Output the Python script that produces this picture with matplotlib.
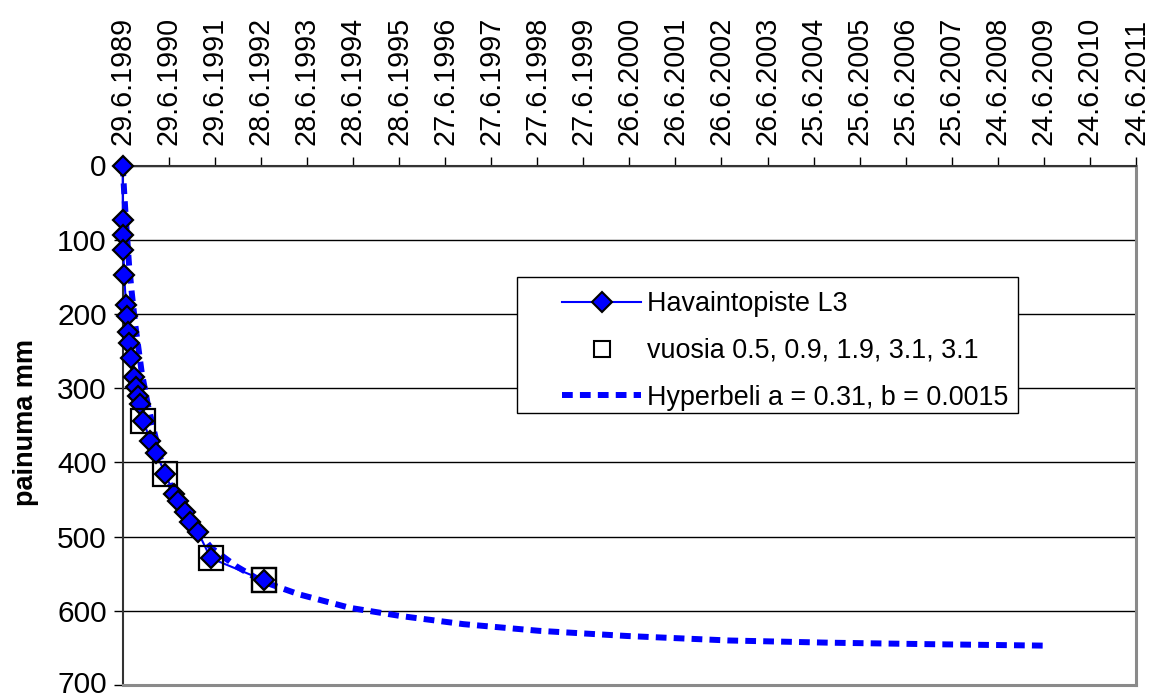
import numpy as np
import matplotlib
matplotlib.use('Agg')
import matplotlib.pyplot as plt
from matplotlib.lines import Line2D
from matplotlib.patches import Rectangle
from matplotlib.transforms import ScaledTranslation

plt.rcParams['font.family'] = ['Liberation Sans', 'DejaVu Sans']

# havaintopisteen L3 painuma (päiviä alusta 29.6.1989, mm)
obs_days = [0, 1, 3, 5, 12, 26, 34, 44, 52, 66, 86, 105, 121, 137, 163,
            219, 266, 338, 407, 441, 490, 533, 597, 697, 1120]
obs_mm = [0, 73, 94, 114, 148, 188, 203, 225, 239, 260, 285, 298, 311, 321, 344,
          371, 388, 416, 443, 452, 467, 481, 494, 529, 559]

# merkityt pisteet: vuosia 0.5, 0.9, 1.9, 3.1, 3.1
sq_days = [163, 338, 697, 1120, 1120]
sq_mm = [344, 416, 529, 559, 559]

# hyperbelisovitus kuvasta luettuna
hyp_days = [0, 3, 10, 25, 50, 71, 100, 150, 200, 300, 400, 500, 700, 900, 1100,
            1400, 1800, 2200, 2700, 3300, 4000, 4800, 5600, 6400, 7325]
hyp_mm = [0, 10, 31, 72, 133, 170, 215, 278, 323, 395, 440, 472, 515, 540, 560,
          578, 596, 607, 618, 627, 634, 640, 643, 645, 647]

tick_labels = ['29.6.1989', '29.6.1990', '29.6.1991', '28.6.1992', '28.6.1993',
               '28.6.1994', '28.6.1995', '27.6.1996', '27.6.1997', '27.6.1998',
               '27.6.1999', '26.6.2000', '26.6.2001', '26.6.2002', '26.6.2003',
               '25.6.2004', '25.6.2005', '25.6.2006', '25.6.2007', '24.6.2008',
               '24.6.2009', '24.6.2010', '24.6.2011']
y_ticks = [0, 100, 200, 300, 400, 500, 600, 700]

legend_labels = ['Havaintopiste L3', 'vuosia 0.5, 0.9, 1.9, 3.1, 3.1',
                 'Hyperbeli a = 0.31, b = 0.0015']

blue = '#0000FF'
hyp_style = dict(color=blue, lw=4.3, linestyle=(0, (1.8, 1.2)), dash_capstyle='butt')

fig = plt.figure(figsize=(11.55, 6.96), dpi=100)
ax = fig.add_axes([122.7 / 1155, 1 - 685 / 696, (1136 - 122.7) / 1155, 519.5 / 696])

ax.plot(hyp_days, hyp_mm, zorder=2, clip_on=False, **hyp_style)
ax.plot(obs_days, obs_mm, color=blue, lw=1.5, marker='D', ms=10.5,
        mfc=blue, mec='black', mew=1.6, zorder=3, clip_on=False)
ax.plot(sq_days, sq_mm, linestyle='none', marker='s', ms=17.5,
        mfc='none', mec='black', mew=1.6, zorder=4, clip_on=False)

x_ticks = np.arange(len(tick_labels)) * 365
ax.set_xlim(0, x_ticks[-1])
ax.set_ylim(700, 0)
ax.xaxis.tick_top()
ax.set_xticks(x_ticks)
ax.set_xticklabels(tick_labels, rotation=90, fontsize=20.7)
ax.set_yticks(y_ticks)
ax.set_yticklabels([str(v) for v in y_ticks], fontsize=21.5)
ax.tick_params(axis='x', direction='out', length=6.5, width=1, pad=8)
ax.tick_params(axis='y', direction='out', length=6.5, width=1, pad=5)
# alin luku hieman ylös, ettei leikkaudu reunasta
last = ax.get_yticklabels()[-1]
last.set_transform(last.get_transform() + ScaledTranslation(0, 2 / 72, fig.dpi_scale_trans))

ax.yaxis.grid(True, color='black', lw=1)
ax.set_axisbelow(True)
for side in ['top', 'left']:
    ax.spines[side].set_color('#333333')
    ax.spines[side].set_linewidth(1.5)
for side in ['right', 'bottom']:
    ax.spines[side].set_color('#8a8a8a')
    ax.spines[side].set_linewidth(2.2)

fig.text(26 / 1155, 1 - 422 / 696, 'painuma mm', rotation=90, ha='center',
         va='center', fontsize=19.5, fontweight='bold')

# selite
box = dict(transform=ax.transAxes)
ax.add_patch(Rectangle((0.3891, 0.524), 0.4945, 0.262, fill=False, ec='black',
                       lw=1, zorder=5, **box))
ax.add_patch(Rectangle((0.3891, 0.524), 0.4945, 0.262, fc='white', ec='none',
                       zorder=4.9, **box))
handles = [
    Line2D([], [], color=blue, lw=1.5, marker='D', ms=10, mfc=blue, mec='black', mew=1.5),
    Line2D([], [], linestyle='none', marker='s', ms=12, mfc='none', mec='black', mew=1.5),
    Line2D([], [], **hyp_style),
]
leg = ax.legend(handles, legend_labels, loc='upper left',
                bbox_to_anchor=((561.7 - 122.7) / 1013.3, 0.758),
                frameon=False, fontsize=19.4, borderpad=0, borderaxespad=0,
                handlelength=2.96, handletextpad=0.22, labelspacing=0.77,
                numpoints=1)
leg.set_zorder(6)

fig.savefig('out.png', dpi=100)
